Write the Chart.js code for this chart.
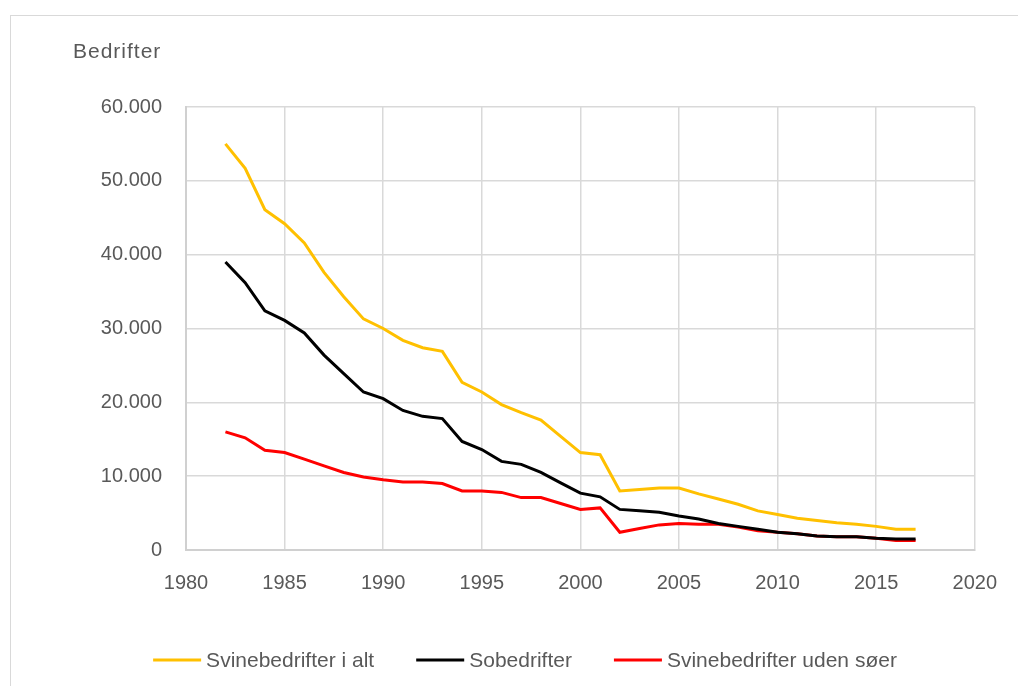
<!DOCTYPE html>
<html>
<head>
<meta charset="utf-8">
<script src="https://cdn.jsdelivr.net/npm/chart.js@4"></script>
<style>
html,body{margin:0;padding:0;background:#fff;}
#wrap{position:absolute;left:0;top:0;width:1018px;height:686px;}
#frame{position:absolute;left:10px;top:15px;width:1010px;height:700px;border:1px solid #d9d9d9;box-sizing:border-box;}
</style>
</head>
<body>
<div id="frame"></div>
<div id="wrap"><canvas id="c" width="1018" height="686"></canvas></div>
<script>
const years = [1982,1983,1984,1985,1986,1987,1988,1989,1990,1991,1992,1993,1994,1995,1996,1997,1998,1999,2000,2001,2002,2003,2004,2005,2006,2007,2008,2009,2010,2011,2012,2013,2014,2015,2016,2017];
const svineIAlt = [55000,51700,46100,44200,41600,37600,34300,31300,30000,28400,27400,26900,22700,21400,19700,18600,17600,15400,13200,12900,8000,8200,8400,8400,7600,6900,6200,5300,4800,4300,4000,3700,3500,3200,2800,2800];
const sobedrifter = [39000,36200,32400,31100,29400,26400,23900,21400,20500,18900,18100,17800,14700,13600,12000,11600,10500,9100,7700,7200,5500,5300,5100,4600,4200,3600,3200,2800,2400,2200,1900,1800,1800,1600,1500,1500];
const udenSoeer = [16000,15200,13500,13200,12300,11400,10500,9900,9500,9200,9200,9000,8000,8000,7800,7100,7100,6300,5500,5700,2400,2900,3400,3600,3500,3500,3100,2600,2400,2200,1900,1800,1800,1600,1300,1300];
const seriesNames = ['Svinebedrifter i alt','Sobedrifter','Svinebedrifter uden søer'];
const xMin = 1980, xMax = 2020, xStep = 5;
const yMin = 0, yMax = 60000, yStep = 10000;
const yTitle = 'Bedrifter';

const colors = ['#FFC000','#000000','#FF0000'];
const toPts = arr => arr.map((v,i)=>({x:years[i], y:v}));
const FAM = '"Liberation Sans", Arial, sans-serif';
const tickFont = {family:FAM, size:20};
const txt = '#595959';

const extrasPlugin = {
  id:'extras',
  afterDraw(chart){
    const ctx = chart.ctx;
    // y-axis title
    ctx.save();
    ctx.font = '21px ' + FAM;
    try { ctx.letterSpacing = '1px'; } catch(e) {}
    ctx.fillStyle = txt;
    ctx.textBaseline = 'middle';
    ctx.textAlign = 'left';
    ctx.fillText(yTitle, 73, 52);
    ctx.restore();
    // custom legend
    ctx.save();
    ctx.font = '21px ' + FAM;
    ctx.textBaseline = 'middle';
    ctx.textAlign = 'left';
    const lineW = 48, gapT = 5, gapItem = 42, cy = 661;
    const ds = chart.data.datasets;
    const widths = ds.map(d => ctx.measureText(d.label).width);
    const total = widths.reduce((a,b)=>a+b,0) + ds.length*(lineW+gapT) + (ds.length-1)*gapItem;
    let x = 525 - total/2;
    ds.forEach((d,i)=>{
      ctx.strokeStyle = d.borderColor;
      ctx.lineWidth = 3;
      ctx.beginPath();
      ctx.moveTo(x, cy-1);
      ctx.lineTo(x+lineW, cy-1);
      ctx.stroke();
      x += lineW + gapT;
      ctx.fillStyle = txt;
      ctx.fillText(d.label, x, cy);
      x += widths[i] + gapItem;
    });
    ctx.restore();
  }
};

new Chart(document.getElementById('c'), {
  type:'line',
  data:{
    datasets:[svineIAlt, sobedrifter, udenSoeer].map((d,i)=>({
      label:seriesNames[i],
      data:toPts(d),
      borderColor:colors[i],
      backgroundColor:colors[i],
      borderWidth:3,
      pointRadius:0,
      tension:0,
      fill:false
    }))
  },
  options:{
    responsive:false,
    animation:false,
    layout:{padding:{left:0,right:43,top:107,bottom:86}},
    plugins:{
      legend:{display:false},
      tooltip:{enabled:false}
    },
    scales:{
      x:{
        type:'linear',
        min:xMin, max:xMax,
        ticks:{stepSize:xStep, font:tickFont, color:txt, padding:21, callback:v=>String(v)},
        grid:{color:'#d9d9d9', lineWidth:1.5, drawTicks:false},
        border:{color:'#d0d0d0', width:2},
        afterFit(s){ s.height = 50; }
      },
      y:{
        min:yMin, max:yMax,
        ticks:{stepSize:yStep, font:tickFont, color:txt, padding:24,
          callback:v=> v===0 ? '0' : v.toLocaleString('de-DE')},
        grid:{color:'#d9d9d9', lineWidth:1.5, drawTicks:false},
        border:{color:'#d0d0d0', width:2},
        afterFit(s){ s.width = 186; }
      }
    }
  },
  plugins:[extrasPlugin]
});
</script>
</body>
</html>
